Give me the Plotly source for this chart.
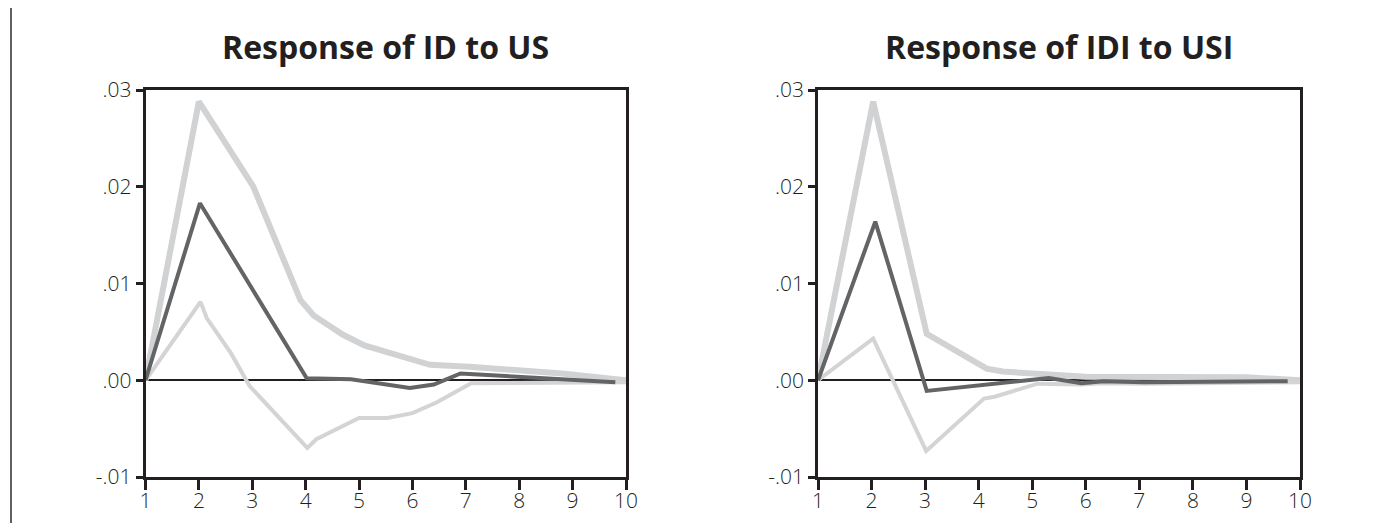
import plotly.graph_objects as go

# ---------------- data ----------------
# Left panel: Response of ID to US
id_up_x = [1, 2, 3.02, 3.9, 4.15, 4.7, 5.1, 6.33, 7.07, 8.8, 10]
id_up_y = [0, 0.0288, 0.0200, 0.0083, 0.0067, 0.0047, 0.0036, 0.0016, 0.0014, 0.0007, 0.0]
id_mid_x = [1, 2.02, 4.02, 4.85, 5.95, 6.4, 6.9, 7.25, 9.8]
id_mid_y = [0, 0.0183, 0.0002, 0.0001, -0.0008, -0.00045, 0.0007, 0.0006, -0.0002]
id_lo_x = [1, 2.03, 2.15, 2.6, 2.95, 4.03, 4.2, 5.0, 5.53, 6.0, 6.45, 6.7, 7.1, 10]
id_lo_y = [0, 0.0081, 0.0064, 0.0028, -0.0006, -0.0070, -0.0061, -0.0039, -0.0039,
           -0.0034, -0.0023, -0.0015, -0.0003, -0.0002]

# Right panel: Response of IDI to USI
idi_up_x = [1, 2.03, 3.03, 4.15, 4.45, 5.3, 6.0, 9.0, 10]
idi_up_y = [0, 0.0288, 0.0048, 0.0012, 0.0009, 0.0006, 0.00035, 0.0003, 0.0]
idi_mid_x = [1, 2.07, 3.03, 5.31, 5.92, 6.33, 7.08, 9.77]
idi_mid_y = [0, 0.0164, -0.0011, 0.00024, -0.0003, -0.0001, -0.0002, -0.0001]
idi_lo_x = [1, 2.03, 3.02, 4.1, 4.3, 5.1, 5.9, 6.3, 7.1, 10]
idi_lo_y = [0, 0.0043, -0.0073, -0.0019, -0.0017, -0.00035, -0.00045, -0.0003, -0.00035, -0.0002]

titles = ["Response of ID to US", "Response of IDI to USI"]
x_ticks = [1, 2, 3, 4, 5, 6, 7, 8, 9, 10]
y_ticks = [-0.01, 0.0, 0.01, 0.02, 0.03]
y_tick_text = ["-.01", ".00", ".01", ".02", ".03"]

# ---------------- figure ----------------
OFF = 8                      # page body margin
WIN_W, WIN_H = 1390, 523
W, H = WIN_W - OFF, WIN_H - OFF
C_UP = "#d1d2d4"
C_LO = "#d4d4d4"
C_MID = "#636466"
C_AX = "#231f20"


def px_x(X):
    return (X - OFF) / W


def px_y(Y):
    return 1 - (Y - OFF) / H


fig = go.Figure()

panels = [
    (id_up_x, id_up_y, id_lo_x, id_lo_y, id_mid_x, id_mid_y, "x", "y"),
    (idi_up_x, idi_up_y, idi_lo_x, idi_lo_y, idi_mid_x, idi_mid_y, "x2", "y2"),
]
for ux, uy, lx, ly, mx, my, xa, ya in panels:
    fig.add_trace(go.Scatter(x=ux, y=uy, mode="lines", line=dict(color=C_UP, width=6),
                             xaxis=xa, yaxis=ya, showlegend=False, hoverinfo="skip"))
    fig.add_trace(go.Scatter(x=lx, y=ly, mode="lines", line=dict(color=C_LO, width=4),
                             xaxis=xa, yaxis=ya, showlegend=False, hoverinfo="skip"))
    fig.add_trace(go.Scatter(x=mx, y=my, mode="lines", line=dict(color=C_MID, width=4),
                             xaxis=xa, yaxis=ya, showlegend=False, hoverinfo="skip"))

left_px = [(145.5, 626), (818, 1300)]
top_px, bot_px = 90, 477
ydom = [px_y(bot_px), px_y(top_px)]

tick_font = dict(family="Open Sans, sans-serif", size=21, color=C_AX, weight=300)

for i, (l, r) in enumerate(left_px):
    sfx = "" if i == 0 else str(i + 1)
    fig.update_layout(**{
        "xaxis" + sfx: dict(
            domain=[px_x(l), px_x(r)], range=[1, 10], tickvals=x_ticks,
            ticks="outside", ticklen=10, tickwidth=2.5, tickcolor=C_AX,
            showline=True, linewidth=2.5, linecolor=C_AX, mirror=True,
            showgrid=False, zeroline=False, tickfont=tick_font,
            ticklabelstandoff=-7,
            anchor="y" + sfx, fixedrange=True, automargin=False,
        ),
        "yaxis" + sfx: dict(
            domain=ydom, range=[-0.01, 0.03], tickvals=y_ticks, ticktext=y_tick_text,
            ticks="outside", ticklen=7, tickwidth=2.5, tickcolor=C_AX,
            showline=True, linewidth=2.5, linecolor=C_AX, mirror=True,
            showgrid=False, zeroline=True, zerolinecolor=C_AX, zerolinewidth=2,
            tickfont=tick_font, anchor="x" + sfx, fixedrange=True, automargin=False,
        ),
    })
    fig.add_annotation(
        text="<b>" + titles[i] + "</b>", xref="paper", yref="paper",
        x=px_x((l + r) / 2), y=px_y(46), xanchor="center", yanchor="middle",
        showarrow=False, font=dict(family="Open Sans, sans-serif", size=32, color=C_AX),
    )

# thin frame line at the very left of the page
fig.add_shape(type="line", xref="paper", yref="paper", x0=px_x(11), x1=px_x(11), y0=0, y1=1,
              line=dict(color="#2b2b2b", width=1.5))

fig.update_layout(
    width=W, height=H, margin=dict(l=0, r=0, t=0, b=0, autoexpand=False),
    paper_bgcolor="white", plot_bgcolor="white",
)

fig.write_html("out.html")
